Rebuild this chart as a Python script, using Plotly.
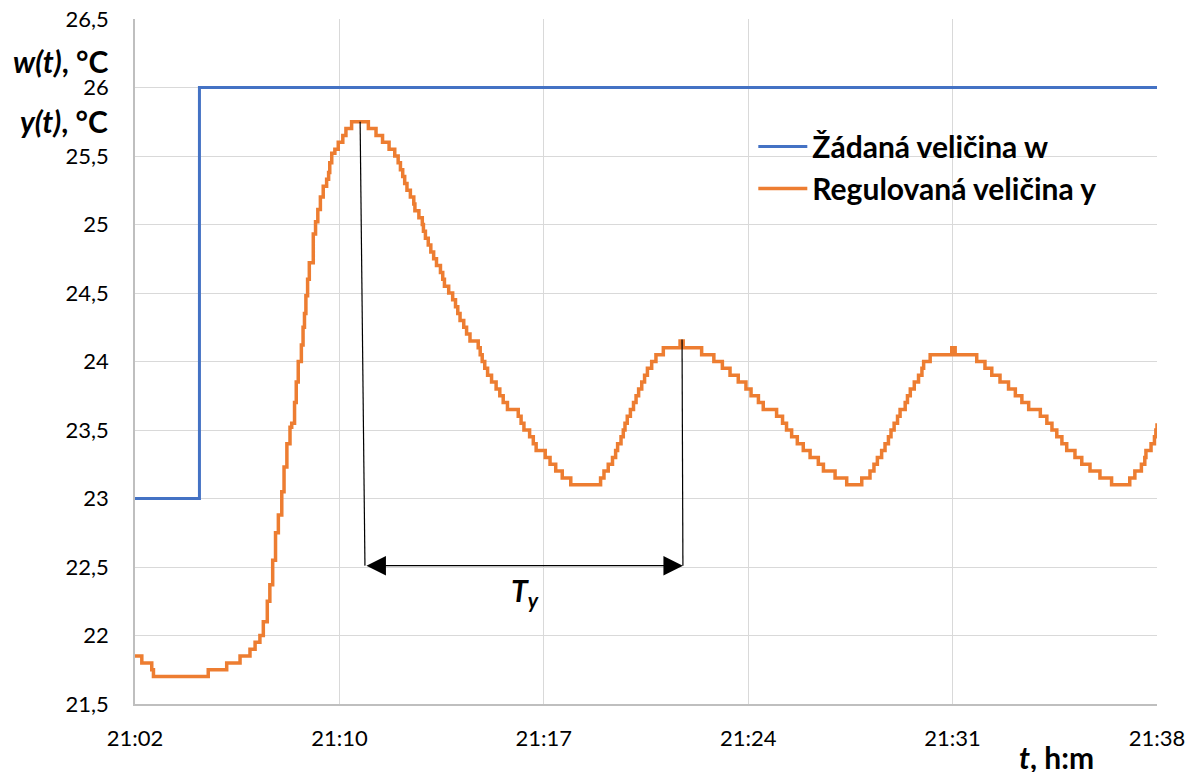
import plotly.graph_objects as go

# === Data (time in minutes after 21:02) ===
w_time = [0, 2.27, 36]
w_value = [23, 26, 26]

y_time = [
    0, 0.24, 0.59, 0.65, 2.58, 3.23, 3.70, 4.05, 4.23, 4.40,
    4.52, 4.66, 4.75, 4.85, 4.95, 5.05, 5.17, 5.25, 5.35, 5.46,
    5.52, 5.62, 5.68, 5.75, 5.86, 5.92, 5.97, 6.02, 6.08, 6.14,
    6.28, 6.36, 6.44, 6.53, 6.63, 6.75, 6.82, 6.86, 6.93, 7.04,
    7.16, 7.32, 7.43, 7.63,
    8.22, 8.49, 8.72, 8.95, 9.15, 9.27, 9.35, 9.43, 9.50, 9.58,
    9.70, 9.82, 9.86, 10.00, 10.12, 10.16, 10.23, 10.33, 10.42, 10.52,
    10.62, 10.76, 10.84, 10.90, 11.05, 11.19, 11.29, 11.37, 11.45, 11.58,
    11.68, 11.80, 12.09, 12.16, 12.23, 12.32, 12.42, 12.56, 12.72, 12.85,
    12.97, 13.12, 13.50, 13.60, 13.70, 13.90, 14.03, 14.13, 14.45, 14.62,
    14.82, 15.05, 15.35,
    16.40, 16.52, 16.67, 16.82, 16.93, 17.00, 17.12, 17.20, 17.26, 17.34,
    17.45, 17.56, 17.65, 17.74, 17.85, 17.95, 18.05, 18.20, 18.35, 18.61,
    19.20, 19.31, 19.96,
    20.39, 20.69, 20.96, 21.25, 21.52, 21.70, 21.96, 22.13, 22.60, 22.81,
    22.95, 23.13, 23.33, 23.54, 23.78, 24.07, 24.25, 24.66, 25.07,
    25.60, 25.89, 26.03, 26.15, 26.30, 26.42, 26.54, 26.63, 26.74, 26.86,
    26.95, 27.13, 27.21, 27.31, 27.45, 27.60, 27.72, 27.78, 28.01, 28.77,
    28.89,
    29.65, 29.94, 30.18, 30.47, 30.77, 31.01, 31.24, 31.48, 31.89, 32.12,
    32.30, 32.47, 32.65, 32.82, 33.11, 33.35, 33.64, 33.99, 34.40,
    35.04, 35.22, 35.45, 35.57, 35.61, 35.79, 35.91, 35.96, 36.0,
]
y_value = [
    21.85, 21.80, 21.75, 21.70, 21.75, 21.80, 21.85, 21.90, 21.95, 22.00,
    22.10, 22.25, 22.37, 22.55, 22.75, 22.88, 23.05, 23.23, 23.40, 23.52,
    23.55, 23.70, 23.85, 24.00, 24.12, 24.25, 24.35, 24.48, 24.60, 24.72,
    24.93, 25.02, 25.11, 25.20, 25.28, 25.33, 25.38, 25.45, 25.52, 25.55,
    25.60, 25.65, 25.70, 25.75,
    25.70, 25.65, 25.60, 25.55, 25.50, 25.45, 25.40, 25.35, 25.30, 25.25,
    25.20, 25.15, 25.10, 25.05, 25.00, 24.95, 24.90, 24.85, 24.80, 24.75,
    24.70, 24.65, 24.60, 24.55, 24.50, 24.45, 24.40, 24.35, 24.30, 24.25,
    24.20, 24.15, 24.10, 24.05, 24.00, 23.95, 23.90, 23.85, 23.80, 23.75,
    23.70, 23.65, 23.60, 23.55, 23.50, 23.45, 23.40, 23.35, 23.30, 23.25,
    23.20, 23.15, 23.10,
    23.15, 23.20, 23.25, 23.30, 23.35, 23.40, 23.45, 23.50, 23.55, 23.60,
    23.65, 23.70, 23.75, 23.80, 23.85, 23.90, 23.95, 24.00, 24.05, 24.10,
    24.15, 24.10, 24.05,
    24.00, 23.95, 23.90, 23.85, 23.80, 23.75, 23.70, 23.65, 23.60, 23.55,
    23.50, 23.45, 23.40, 23.35, 23.30, 23.25, 23.20, 23.15, 23.10,
    23.15, 23.20, 23.25, 23.30, 23.35, 23.40, 23.45, 23.50, 23.55, 23.60,
    23.65, 23.70, 23.75, 23.80, 23.85, 23.90, 23.95, 24.00, 24.05, 24.10,
    24.05,
    24.00, 23.95, 23.90, 23.85, 23.80, 23.75, 23.70, 23.65, 23.60, 23.55,
    23.50, 23.45, 23.40, 23.35, 23.30, 23.25, 23.20, 23.15, 23.10,
    23.15, 23.20, 23.25, 23.30, 23.35, 23.40, 23.45, 23.50, 23.55,
]

x_tickvals = [0, 7.2, 14.4, 21.6, 28.8, 36]
x_ticktext = ["21:02", "21:10", "21:17", "21:24", "21:31", "21:38"]
y_tickvals = [21.5, 22, 22.5, 23, 23.5, 24, 24.5, 25, 25.5, 26, 26.5]
y_ticktext = ["21,5", "22", "22,5", "23", "23,5", "24", "24,5", "25", "25,5", "26", "26,5"]

# period marker T_y (peak 1 -> peak 2)
ty_top1 = (7.93, 25.75)
ty_top2 = (19.27, 24.16)
ty_left, ty_right, ty_level = 8.10, 19.30, 22.51

FONT = "Lato, Roboto, sans-serif"
BLUE = "#4472C4"
ORANGE = "#ED7D31"

fig = go.Figure()
fig.add_trace(go.Scatter(
    x=w_time, y=w_value, mode="lines", line_shape="hv",
    line=dict(color=BLUE, width=3), name="Žádaná veličina w",
    legendgroup="w",
))
fig.add_trace(go.Scatter(
    x=y_time, y=y_value, mode="lines", line_shape="hv",
    line=dict(color=ORANGE, width=3.5), name="Regulovaná veličina y",
    legendgroup="y",
))

# === T_y marker lines and arrow ===
for (tx, ty), bx in [(ty_top1, ty_left), (ty_top2, ty_right)]:
    fig.add_shape(type="line", xref="x", yref="y", x0=tx, y0=ty, x1=bx, y1=ty_level,
                  line=dict(color="black", width=1.2))
fig.add_annotation(
    x=ty_right, y=ty_level, ax=ty_left, ay=ty_level, axref="x", ayref="y",
    xref="x", yref="y", text="", showarrow=True, arrowside="end+start",
    arrowhead=2, arrowsize=3, arrowwidth=1.3, arrowcolor="black",
)
fig.add_annotation(
    x=13.75, y=22.32, xref="x", yref="y", showarrow=False,
    text="<b><i>T</i></b><sub><b><i>y</i></b></sub>",
    font=dict(family=FONT, size=30, color="black"),
)

# === Axis titles ===
title_font = dict(family=FONT, size=30, color="black")
fig.add_annotation(x=-0.024, y=0.939, xref="paper", yref="paper", xanchor="right",
                   yanchor="middle", showarrow=False, text="<b><i>w(t)</i>, °C</b>",
                   font=title_font)
fig.add_annotation(x=-0.024, y=0.851, xref="paper", yref="paper", xanchor="right",
                   yanchor="middle", showarrow=False, text="<b><i>y(t)</i>, °C</b>",
                   font=title_font)
fig.add_annotation(x=0.902, y=-0.077, xref="paper", yref="paper", xanchor="center",
                   yanchor="middle", showarrow=False, text="<b><i>t</i>, h:m</b>",
                   font=title_font)

# page body adds an 8px offset, so margins are shifted to compensate
fig.update_layout(
    width=1200, height=772,
    margin=dict(l=127, r=51, t=11, b=76),
    plot_bgcolor="white", paper_bgcolor="white",
    font=dict(family=FONT, size=22, color="black"),
    legend=dict(
        x=0.605, y=0.852, xanchor="left", yanchor="top",
        bgcolor="rgba(0,0,0,0)", traceorder="grouped", tracegroupgap=0,
        itemwidth=49,
        font=dict(family=FONT, size=30, color="black", weight="bold"),
    ),
    xaxis=dict(
        range=[0, 36], tickvals=x_tickvals, ticktext=x_ticktext,
        showgrid=True, gridcolor="#d9d9d9", gridwidth=1,
        showline=True, linecolor="#bfbfbf", linewidth=1.5,
        zeroline=False, ticks="", ticklabelstandoff=14, automargin=False,
        ticklabeloverflow="allow",
        tickfont=dict(family=FONT, size=22, color="black"),
    ),
    yaxis=dict(
        range=[21.5, 26.5], tickvals=y_tickvals, ticktext=y_ticktext,
        showgrid=True, gridcolor="#d9d9d9", gridwidth=1,
        showline=True, linecolor="#bfbfbf", linewidth=1.5,
        zeroline=False, ticks="", ticklabelstandoff=20, automargin=False,
        ticklabeloverflow="allow",
        tickfont=dict(family=FONT, size=22, color="black"),
    ),
)

fig.write_html("out.html")
